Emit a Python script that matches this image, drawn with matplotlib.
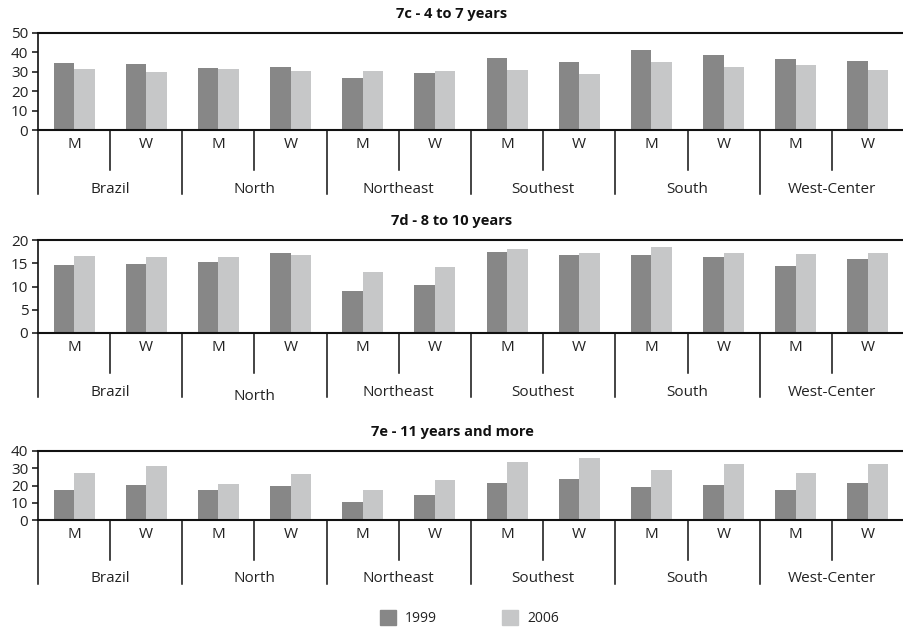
import matplotlib
matplotlib.use("Agg")
import matplotlib.pyplot as plt
from matplotlib.transforms import blended_transform_factory
from matplotlib.patches import Rectangle

plt.rcParams['font.family'] = ['Open Sans', 'DejaVu Sans']

regions = ["Brazil", "North", "Northeast", "Southest", "South", "West-Center"]
sexes = ["M", "W"]
years = ["1999", "2006"]

titles = ["7c - 4 to 7 years", "7d - 8 to 10 years", "7e - 11 years and more"]

# order: Brazil M, Brazil W, North M, North W, ...
p1_1999 = [34.6, 34.0, 31.9, 32.3, 26.6, 29.4, 37.2, 35.2, 41.1, 38.9, 36.7, 35.5]
p1_2006 = [31.7, 30.0, 31.6, 30.2, 30.2, 30.2, 31.1, 29.0, 35.3, 32.3, 33.6, 30.7]

p2_1999 = [14.7, 14.9, 15.3, 17.1, 9.0, 10.3, 17.4, 16.8, 16.8, 16.3, 14.5, 16.0]
p2_2006 = [16.5, 16.3, 16.3, 16.7, 13.2, 14.2, 18.0, 17.1, 18.6, 17.1, 16.9, 17.3]

p3_1999 = [17.5, 20.5, 17.5, 19.8, 10.6, 14.7, 21.7, 24.0, 18.9, 20.5, 17.5, 21.2]
p3_2006 = [27.2, 31.1, 21.1, 26.7, 17.5, 23.3, 33.9, 36.0, 29.1, 32.5, 27.1, 32.4]

yticks = [[0, 10, 20, 30, 40, 50], [0, 5, 10, 15, 20], [0, 10, 20, 30, 40]]
data = [(p1_1999, p1_2006), (p2_1999, p2_2006), (p3_1999, p3_2006)]

W, H = 904, 629
fig = plt.figure(figsize=(W / 100, H / 100), dpi=100)

# (top px, zero px)
panels = [(33, 130), (240, 333), (451, 520)]
left_px = 38
c_dark = "#878787"
c_light = "#c6c7c8"
txt = '#222222'


def fy(px):
    return 1 - px / H


for idx, ((top, zero), (d99, d06), yt, title) in enumerate(zip(panels, data, yticks, titles)):
    ax = fig.add_axes([left_px / W, 1 - zero / H, (W - left_px) / W, (zero - top) / H])
    n = len(d99)
    xs = list(range(n))
    bw = 0.285
    ax.bar([x - bw / 2 for x in xs], d99, width=bw, color=c_dark, zorder=2)
    ax.bar([x + bw / 2 for x in xs], d06, width=bw, color=c_light, zorder=2)
    ax.set_xlim(-0.5, n - 0.5)
    ax.set_ylim(yt[0], yt[-1])
    ax.set_yticks(yt)
    ax.set_yticklabels([str(v) for v in yt], fontsize=11)
    ax.tick_params(axis='y', length=4, width=1.2, pad=3, colors=txt)
    ax.set_xticks([])
    ax.spines['right'].set_visible(False)
    for s in ['top', 'bottom', 'left']:
        ax.spines[s].set_linewidth(1.5)
        ax.spines[s].set_color('#111111')
    ax.spines['left'].set_linewidth(1.2)

    tr = blended_transform_factory(ax.transData, fig.transFigure)

    # M/W labels
    for i in range(n):
        ax.text(i, fy(zero + 14), sexes[i % 2], transform=tr, ha='center', va='center',
                fontsize=11, color=txt)
    # M/W dividers
    for r in range(len(regions)):
        xd = 2 * r + 0.5
        ax.plot([xd, xd], [fy(zero), fy(zero + 40)], transform=tr, color='#111111',
                lw=1.1, clip_on=False)
    # region boundaries
    for r in range(len(regions) + 1):
        xb = 2 * r - 0.5
        ax.plot([xb, xb], [fy(zero), fy(zero + 64)], transform=tr, color='#111111',
                lw=1.1, clip_on=False)
    # region labels
    for r, name in enumerate(regions):
        off = 59
        if idx == 1 and name == "North":
            off = 63
        ax.text(2 * r + 0.5, fy(zero + off), name, transform=tr, ha='center', va='center',
                fontsize=11, color=txt)

    fig.text(452 / W, fy(top - 19), title, ha='center',
             va='center', fontsize=10.5, fontweight='bold', color='#111111')

# legend
for (x0, lab, col) in [(380, years[0], c_dark), (502, years[1], c_light)]:
    fig.patches.append(Rectangle((x0 / W, 1 - 625 / H), 16 / W, 15 / H,
                                 transform=fig.transFigure, color=col))
    fig.text((x0 + 25) / W, 1 - 618 / H, lab, ha='left', va='center', fontsize=10,
             color=txt)

fig.savefig("out.png", dpi=100)
